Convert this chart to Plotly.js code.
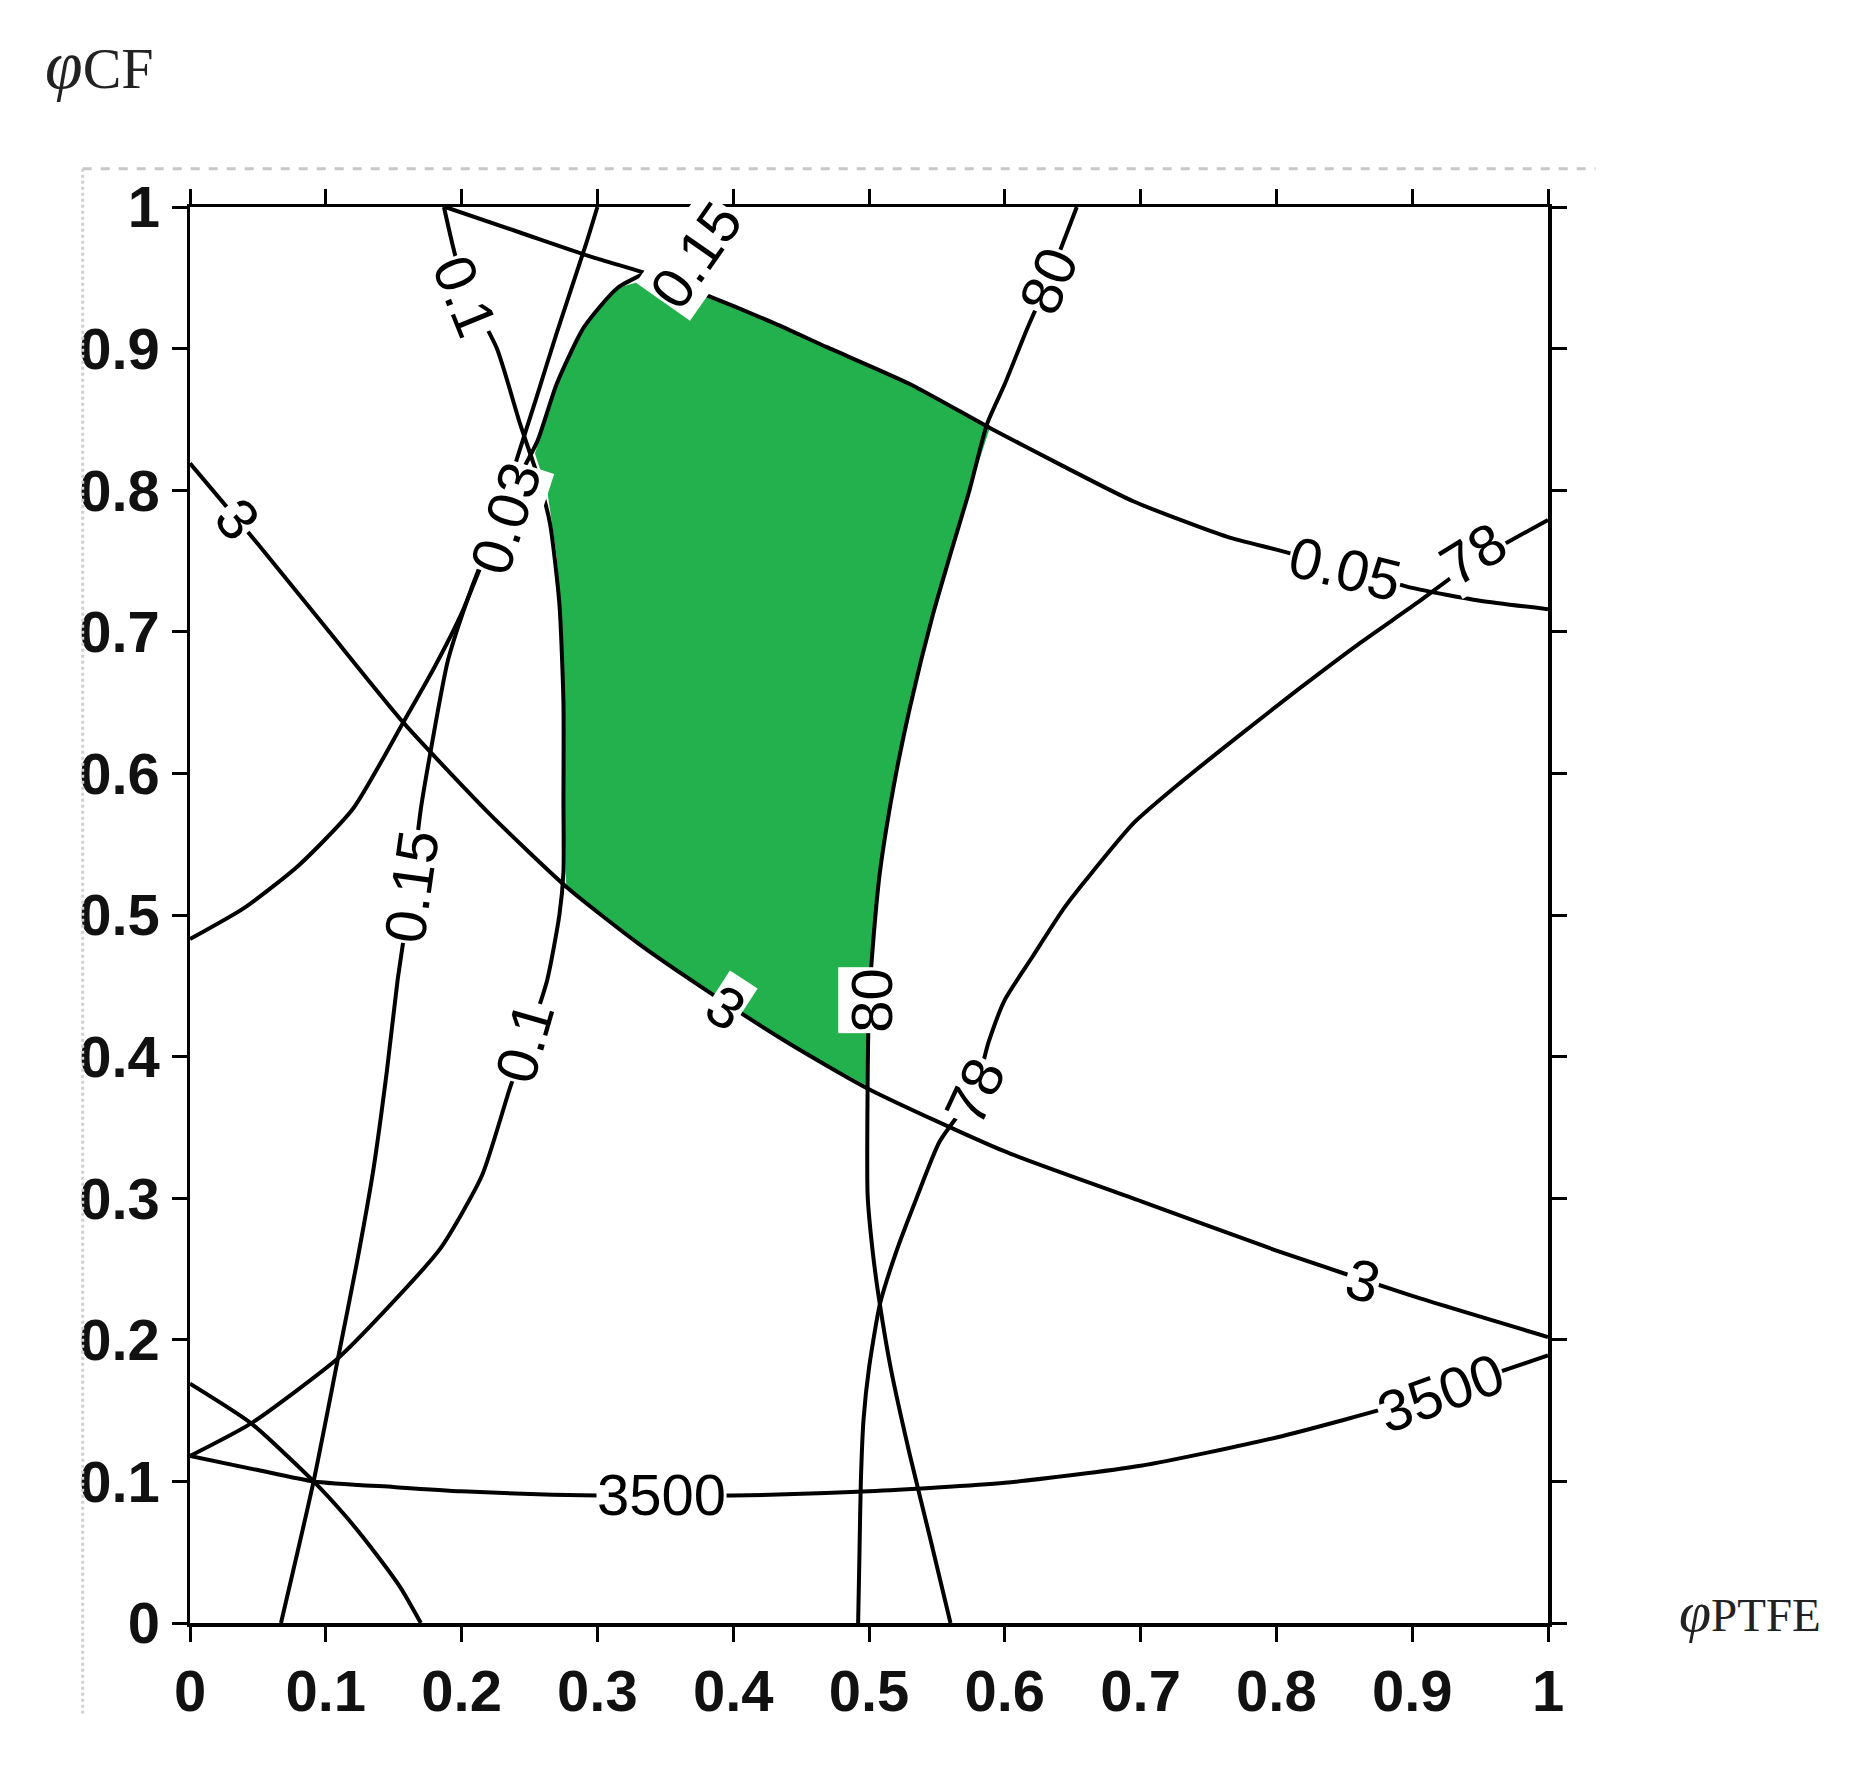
<!DOCTYPE html>
<html>
<head>
<meta charset="utf-8">
<script src="https://cdn.plot.ly/plotly-3.0.1.min.js"></script>
<style>
  html, body { margin: 0; padding: 0; background: #fff; }
  #chart { width: 1852px; height: 1780px; }
</style>
</head>
<body>
<div id="chart"></div>
<script>
// axis ticks
const tickVals = [0, 0.1, 0.2, 0.3, 0.4, 0.5, 0.6, 0.7, 0.8, 0.9, 1];
const tickText = ["0", "0.1", "0.2", "0.3", "0.4", "0.5", "0.6", "0.7", "0.8", "0.9", "1"];

// contour "3"
const c3X = [0, 0.05, 0.1, 0.157, 0.22, 0.277, 0.33, 0.38, 0.44, 0.5, 0.6, 0.7, 0.8, 0.9, 1];
const c3Y = [0.819, 0.762, 0.703, 0.636, 0.572, 0.52, 0.48, 0.447, 0.41, 0.377, 0.333, 0.298, 0.263, 0.231, 0.202];

// contour "3500"
const c3500X = [0, 0.05, 0.091, 0.15, 0.2, 0.3, 0.4, 0.5, 0.6, 0.7, 0.8, 0.9, 1];
const c3500Y = [0.118, 0.108, 0.1, 0.096, 0.093, 0.09, 0.09, 0.093, 0.099, 0.111, 0.131, 0.157, 0.189];

// contour "0.05"
const c005X = [0.188, 0.243, 0.295, 0.343, 0.382, 0.43, 0.469, 0.53, 0.589, 0.643, 0.695, 0.764, 0.8, 0.85, 0.9, 0.95, 1];
const c005Y = [1.0, 0.982, 0.965, 0.951, 0.937, 0.918, 0.901, 0.875, 0.844, 0.817, 0.792, 0.767, 0.758, 0.745, 0.731, 0.722, 0.716];

// contour "0.1"
const c01X = [0.187, 0.2, 0.226, 0.243, 0.256, 0.265, 0.272, 0.275, 0.275, 0.275, 0.272, 0.263, 0.248, 0.236, 0.215, 0.184, 0.142, 0.109, 0.045, 0];
const c01Y = [1.0, 0.95, 0.9, 0.847, 0.81, 0.777, 0.72, 0.65, 0.58, 0.53, 0.5, 0.454, 0.41, 0.379, 0.316, 0.264, 0.219, 0.187, 0.141, 0.118];

// contour "0.15" (steep)
const c015X = [0.3, 0.292, 0.27, 0.255, 0.241, 0.226, 0.207, 0.19, 0.178, 0.17, 0.163, 0.153, 0.145, 0.135, 0.123, 0.109, 0.091, 0.067];
const c015Y = [1.0, 0.975, 0.911, 0.865, 0.823, 0.777, 0.73, 0.68, 0.62, 0.575, 0.52, 0.455, 0.39, 0.32, 0.255, 0.187, 0.1, 0];

// contour "0.03" (rising)
const c003X = [0, 0.04, 0.08, 0.12, 0.157, 0.18, 0.2, 0.222, 0.24, 0.256, 0.27, 0.29, 0.315, 0.345, 0.375, 0.4];
const c003Y = [0.483, 0.505, 0.535, 0.575, 0.636, 0.675, 0.713, 0.765, 0.805, 0.835, 0.875, 0.915, 0.943, 0.958, 0.975, 0.99];

// unlabelled corner contour
const cLowX = [0, 0.045, 0.091, 0.115, 0.136, 0.155, 0.17];
const cLowY = [0.169, 0.141, 0.1, 0.075, 0.05, 0.025, 0];

// contour "80"
const c80X = [0.653, 0.632, 0.616, 0.6, 0.587, 0.574, 0.56, 0.547, 0.53, 0.518, 0.508, 0.503, 0.5, 0.499, 0.499, 0.503, 0.508, 0.516, 0.53, 0.545, 0.56];
const c80Y = [1.0, 0.948, 0.913, 0.875, 0.847, 0.8, 0.755, 0.712, 0.646, 0.59, 0.53, 0.48, 0.437, 0.38, 0.302, 0.26, 0.225, 0.18, 0.119, 0.06, 0];

// contour "78"
const c78X = [1, 0.943, 0.903, 0.86, 0.817, 0.773, 0.73, 0.695, 0.66, 0.643, 0.62, 0.6, 0.588, 0.578, 0.552, 0.535, 0.52, 0.508, 0.5, 0.496, 0.494, 0.493, 0.492];
const c78Y = [0.779, 0.748, 0.72, 0.691, 0.66, 0.627, 0.594, 0.565, 0.525, 0.504, 0.47, 0.44, 0.41, 0.376, 0.34, 0.3, 0.262, 0.225, 0.18, 0.144, 0.1, 0.05, 0];

// feasible (green) region
const regionX = [0.254, 0.27, 0.29, 0.315, 0.345, 0.382, 0.43, 0.469, 0.53, 0.589, 0.574, 0.56, 0.547, 0.53, 0.518, 0.508, 0.503, 0.5, 0.499, 0.44, 0.38, 0.33, 0.277, 0.275, 0.275, 0.273, 0.27, 0.263];
const regionY = [0.826, 0.875, 0.915, 0.943, 0.951, 0.937, 0.918, 0.901, 0.875, 0.844, 0.8, 0.755, 0.712, 0.646, 0.59, 0.53, 0.48, 0.437, 0.379, 0.41, 0.447, 0.48, 0.52, 0.6, 0.65, 0.715, 0.753, 0.8];

// contour labels
const labelText = ["3", "3", "3", "3500", "3500", "0.05", "78", "78", "80", "80", "0.1", "0.1", "0.15", "0.15", "0.03"];
const labelX = [0.035, 0.395, 0.864, 0.347, 0.921, 0.851, 0.945, 0.578, 0.632, 0.502, 0.203, 0.246, 0.163, 0.372, 0.232];
const labelY = [0.78, 0.435, 0.242, 0.091, 0.163, 0.745, 0.755, 0.376, 0.948, 0.44, 0.937, 0.41, 0.52, 0.966, 0.78];
const labelAngle = [50, 33, 15, 0, -20, 14, -32, -65, -68, -90, 68, -74, -82, -55, -72];

const contours = [
  [c3X, c3Y], [c3500X, c3500Y], [c005X, c005Y], [c01X, c01Y], [c015X, c015Y],
  [c003X, c003Y], [cLowX, cLowY], [c80X, c80Y], [c78X, c78Y]
];

const traces = [{
  x: regionX, y: regionY,
  type: "scatter", mode: "lines",
  fill: "toself", fillcolor: "#22b14c",
  line: { width: 0, color: "#22b14c" },
  hoverinfo: "skip"
}];

contours.forEach(([xs, ys]) => {
  traces.push({
    x: xs, y: ys,
    type: "scatter", mode: "lines",
    line: { color: "#000", width: 4, shape: "spline", smoothing: 0.6 },
    hoverinfo: "skip"
  });
});

const labelFont = { family: "Liberation Sans, Arial, sans-serif", size: 58, color: "#000" };

const annotations = labelText.map((t, i) => ({
  x: labelX[i], y: labelY[i], xref: "x", yref: "y",
  text: t, showarrow: false, textangle: labelAngle[i],
  font: labelFont, bgcolor: "#fff", borderpad: 0
}));

// axis symbols
annotations.push({
  x: -0.108, y: 1.1, xref: "paper", yref: "paper", xanchor: "left", yanchor: "middle",
  text: "<i><span style=\"font-size:68px\">φ</span></i>CF", showarrow: false,
  font: { family: "Liberation Serif, Times New Roman, serif", size: 58, color: "#222" }
});
annotations.push({
  x: 1.095, y: 0.008, xref: "paper", yref: "paper", xanchor: "left", yanchor: "middle",
  text: "<i><span style=\"font-size:58px\">φ</span></i>PTFE", showarrow: false,
  font: { family: "Liberation Serif, Times New Roman, serif", size: 47, color: "#222" }
});

const axisStyle = {
  range: [0, 1],
  tickmode: "array", tickvals: tickVals, ticktext: tickText,
  ticks: "outside", ticklen: 15, tickwidth: 3, tickcolor: "#000",
  showline: true, linewidth: 3.5, linecolor: "#000", mirror: "ticks",
  showgrid: false, zeroline: false, fixedrange: true,
  tickfont: { family: "Liberation Sans, Arial, sans-serif", size: 58, color: "#111", weight: "bold" }
};

const layout = {
  width: 1852, height: 1780,
  margin: { l: 190, r: 304, t: 207, b: 157, pad: 0 },
  paper_bgcolor: "#fff", plot_bgcolor: "#fff",
  showlegend: false,
  xaxis: Object.assign({}, axisStyle),
  yaxis: Object.assign({}, axisStyle),
  annotations: annotations,
  shapes: [
    { type: "line", xref: "paper", yref: "paper", x0: -0.079, x1: 1.035, y0: 1.027, y1: 1.027,
      line: { color: "#c8c8c8", width: 3, dash: "dash" } },
    { type: "line", xref: "paper", yref: "paper", x0: -0.079, x1: -0.079, y0: 1.027, y1: -0.064,
      line: { color: "#d0d0d0", width: 3, dash: "dot" } }
  ]
};

Plotly.newPlot("chart", traces, layout, { staticPlot: true, displayModeBar: false });
</script>
</body>
</html>
